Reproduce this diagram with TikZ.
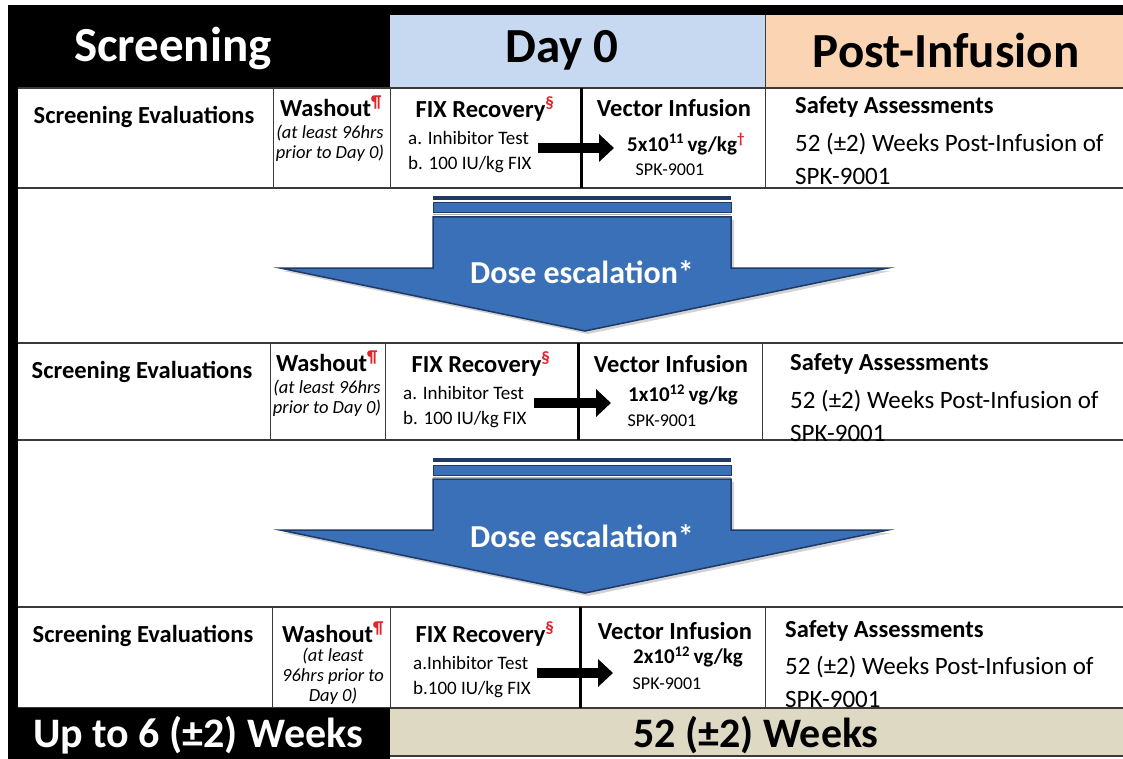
\documentclass[tikz,border=0pt]{standalone}
\usepackage{fontspec}
\setmainfont{Carlito}
\usetikzlibrary{arrows.meta}
\definecolor{dayblue}{HTML}{C6D9F1}
\definecolor{peach}{HTML}{FBD4B4}
\definecolor{tanband}{HTML}{DDD9C3}
\definecolor{arrowblue}{HTML}{3A70B8}
\definecolor{navy}{HTML}{1F3A66}
\definecolor{fnred}{HTML}{E0262B}
\definecolor{rulegray}{HTML}{3A3A3A}
\newcommand\fnm[1]{\textsuperscript{\textcolor{fnred}{#1}}}
\newcommand\fsz[2]{\fontsize{#1}{#2}\selectfont}
\newcommand\gridrow[6]{%
  \fill[white] (18,#1) rectangle (1123,#2);
  \draw[rulegray,line width=1.5pt] (18,#1) -- (1123,#1) (18,#2) -- (1123,#2);
  \draw[rulegray,line width=1pt] (#3,#1) -- (#3,#2) (#4,#1) -- (#4,#2) (#6,#1) -- (#6,#2);
  \draw[black,line width=3pt] (#5,#1) -- (#5,#2);
}
\newcommand\dosearrow[1]{%
  \fill[gray!35] (436,#1+24) -- (734,#1+24) -- (734,#1+75) -- (891,#1+75) -- (588,#1+138) -- (283,#1+75) -- (436,#1+75) -- cycle;
  \fill[navy] (433,#1) rectangle (731,#1+4);
  \filldraw[fill=arrowblue,draw=navy,line width=1pt] (433,#1+7) rectangle (731,#1+17);
  \draw[gray!60,line width=1pt] (433,#1+19) -- (731,#1+19);
  \filldraw[fill=arrowblue,draw=navy,line width=1.5pt] (433,#1+21) -- (731,#1+21) -- (731,#1+72) -- (888,#1+72) -- (585,#1+135) -- (280,#1+72) -- (433,#1+72) -- cycle;
}
\begin{document}
\begin{tikzpicture}[x=1pt,y=-1pt,
  ttl/.style={font=\bfseries\fsz{24.5}{28},inner sep=0pt},
  hdr/.style={font=\bfseries\fsz{49}{54},inner sep=0pt},
  foot/.style={font=\bfseries\fsz{42}{46},inner sep=0pt},
  itl/.style={font=\itshape\fsz{18.5}{20},inner sep=0pt,align=center},
  sub/.style={font=\fsz{19}{25},inner sep=0pt,align=left},
  spk/.style={font=\fsz{18}{20},inner sep=0pt},
  dose/.style={font=\bfseries\fsz{21}{24},inner sep=0pt},
  bodytxt/.style={font=\fsz{25}{33},inner sep=0pt,align=left},
  dosetxt/.style={font=\bfseries\fsz{32}{35},text=white,inner sep=0pt},
  bigarrow/.style={line width=10pt,-{Triangle[length=15pt,width=27pt]}},
]
\useasboundingbox (0,0) rectangle (1123,759);
\fill[white] (0,0) rectangle (1123,759);
% frame
\fill[black] (8,5) rectangle (1123,15);
\fill[black] (8,5) rectangle (18,759);
\fill[black] (8,5) rectangle (390,88);
\fill[dayblue] (390,15) rectangle (765,88);
\fill[peach] (765,15) rectangle (1123,88);
\draw[rulegray,line width=1pt] (765,15) -- (765,88);
\node[hdr,text=white] (hscr) at (173,48) {Screening};
\node[hdr] (hday) at (562,50) {Day 0};
\node[hdr] (hpost) at (946,50) {Post-Infusion};

% ---------- row 1 ----------
\gridrow{88}{188}{273}{390}{581}{765}
\node[ttl] (se1) at (144,117) {Screening Evaluations};
\node[ttl] (wo1) at (331,106) {Washout\fnm{¶}};
\node[itl] (wt1) at (330,143) {(\textit{at least 96hrs}\\\textit{prior to Day 0})};
\node[ttl] (fx1) at (485,109) {FIX Recovery\fnm{§}};
\node[sub,anchor=west] (it1) at (408,152) {a. Inhibitor Test\\b. 100 IU/kg FIX};
\node[ttl] (vi1) at (674,108) {Vector Infusion};
\node[dose] (vd1) at (686,144) {5x10\textsuperscript{11}\,vg/kg\fnm{†}};
\node[spk] (sp1) at (670,170) {SPK-9001};
\node[ttl,anchor=west] (sa1) at (795,107) {Safety Assessments};
\node[bodytxt,anchor=west] (sb1) at (795,159) {52 (±2) Weeks Post-Infusion of\\SPK-9001};
\coordinate (as1) at (538,148);
\coordinate (ae1) at (614,148);
\draw[bigarrow] (as1) -- (ae1);

% ---------- arrow 1 ----------
\dosearrow{196}
\node[dosetxt] (de1) at (582,272) {Dose escalation*};

% ---------- row 2 ----------
\gridrow{343}{440}{270}{385}{578}{762}
\node[ttl] (se2) at (142,372) {Screening Evaluations};
\node[ttl] (wo2) at (327,361) {Washout\fnm{¶}};
\node[itl] (wt2) at (327,398) {(\textit{at least 96hrs}\\\textit{prior to Day 0})};
\node[ttl] (fx2) at (481,364) {FIX Recovery\fnm{§}};
\node[sub,anchor=west] (it2) at (403,407) {a. Inhibitor Test\\b. 100 IU/kg FIX};
\node[ttl] (vi2) at (671,364) {Vector Infusion};
\node[dose] (vd2) at (683,395) {1x10\textsuperscript{12}\,vg/kg};
\node[spk] (sp2) at (662,421) {SPK-9001};
\node[ttl,anchor=west] (sa2) at (790,364) {Safety Assessments};
\node[bodytxt,anchor=west] (sb2) at (790,416) {52 (±2) Weeks Post-Infusion of\\SPK-9001};
\coordinate (as2) at (534,403);
\coordinate (ae2) at (611,403);
\draw[bigarrow] (as2) -- (ae2);

% ---------- arrow 2 ----------
\dosearrow{458}
\node[dosetxt] (de2) at (582,536) {Dose escalation*};

% ---------- row 3 ----------
\gridrow{607}{708}{272}{390}{580}{765}
\node[ttl] (se3) at (143,636) {Screening Evaluations};
\node[ttl] (wo3) at (333,632) {Washout\fnm{¶}};
\node[itl] (wt3) at (333,676) {(\textit{at least}\\\textit{96hrs prior to}\\\textit{Day 0})};
\node[ttl] (fx3) at (485,634) {FIX Recovery\fnm{§}};
\node[sub,anchor=west] (it3) at (413,677) {a.Inhibitor Test\\b.100 IU/kg FIX};
\node[ttl] (vi3) at (675,631) {Vector Infusion};
\node[dose] (vd3) at (688,657) {2x10\textsuperscript{12}\,vg/kg};
\node[spk] (sp3) at (667,684) {SPK-9001};
\node[ttl,anchor=west] (sa3) at (785,631) {Safety Assessments};
\node[bodytxt,anchor=west] (sb3) at (785,682) {52 (±2) Weeks Post-Infusion of\\SPK-9001};
\coordinate (as3) at (537,673);
\coordinate (ae3) at (613,673);
\draw[bigarrow] (as3) -- (ae3);

% ---------- bottom band ----------
\fill[black] (8,708) rectangle (390,759);
\fill[tanband] (390,709) rectangle (1123,756);
\draw[rulegray,line width=1.5pt] (390,756) -- (1123,756);
\node[foot,text=white] (fscr) at (198,735) {Up to 6 (±2) Weeks};
\node[foot] (fpost) at (756,735) {52 (±2) Weeks};
\end{tikzpicture}
\end{document}
